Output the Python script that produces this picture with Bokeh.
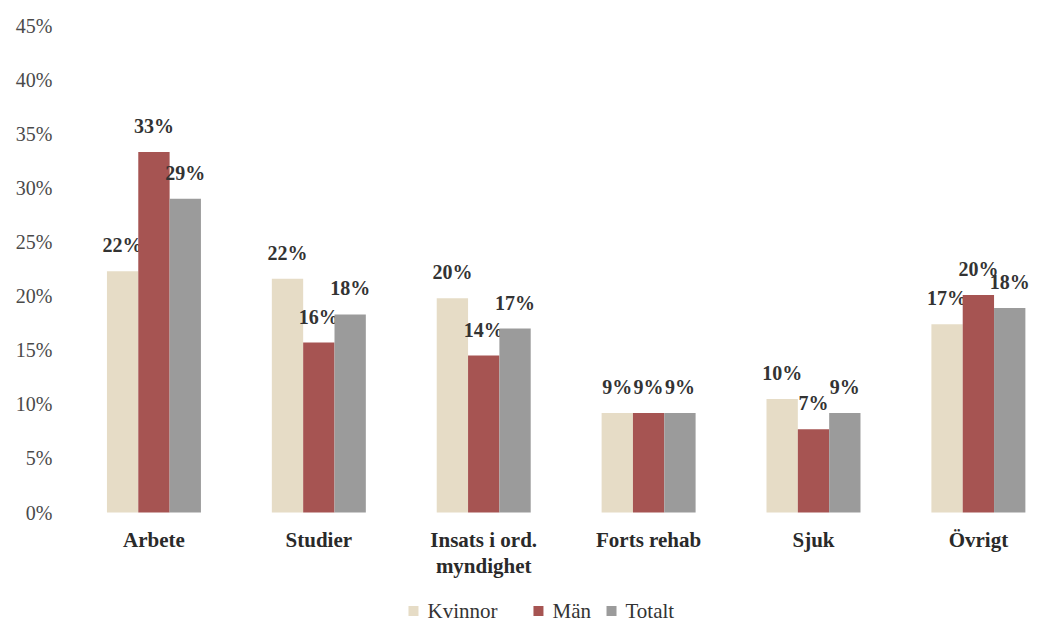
from bokeh.plotting import figure
from bokeh.models import ColumnDataSource, Range1d, FixedTicker, PrintfTickFormatter
from bokeh.embed import file_html
from bokeh.resources import INLINE
from bokeh.core.properties import value

categories = ["Arbete", "Studier", "Insats i ord.\nmyndighet", "Forts rehab", "Sjuk", "Övrigt"]
kvinnor = [22.3, 21.6, 19.8, 9.2, 10.5, 17.4]
man = [33.3, 15.7, 14.5, 9.2, 7.7, 20.1]
totalt = [29.0, 18.3, 17.0, 9.2, 9.2, 18.9]
kvinnor_labels = ["22%", "22%", "20%", "9%", "10%", "17%"]
man_labels = ["33%", "16%", "14%", "9%", "7%", "20%"]
totalt_labels = ["29%", "18%", "17%", "9%", "9%", "18%"]
series_names = ["Kvinnor", "Män", "Totalt"]
y_ticks = [0, 5, 10, 15, 20, 25, 30, 35, 40, 45]

colors = ["#e6dcc6", "#a65452", "#9b9b9b"]
FONT = "Liberation Serif"

xs = list(range(len(categories)))
# frame extends below the zero line to hold category labels and legend
p = figure(frame_width=958, frame_height=600, output_backend="svg", toolbar_location=None,
           x_range=Range1d(-0.5, 5.31), y_range=Range1d(-10.44, 45),
           min_border_left=71, min_border_right=0, min_border_top=25, min_border_bottom=0)
p.outline_line_color = None
p.xgrid.visible = False
p.ygrid.visible = False
p.xaxis.visible = False

bw = 0.19
offsets = [-bw, 0, bw]
for vals, labs, col, off in zip([kvinnor, man, totalt], [kvinnor_labels, man_labels, totalt_labels],
                                colors, offsets):
    src = ColumnDataSource(dict(x=[x + off for x in xs], top=vals, lab=labs))
    p.vbar(x="x", top="top", bottom=0, width=bw, source=src, fill_color=col, line_color=None)
    p.text(x="x", y="top", text="lab", source=src, text_align="center", text_baseline="alphabetic",
           y_offset=-26, text_font=value(FONT), text_font_style="bold", text_font_size="20px",
           text_color="#333333")

# category labels under the zero line
cat_src = ColumnDataSource(dict(x=xs, y=[0] * len(xs), text=categories))
p.text(x="x", y="y", text="text", source=cat_src, text_align="center", text_baseline="top",
       y_offset=15, text_font=value(FONT), text_font_style="bold", text_font_size="21px",
       text_color="#2a2a2a", text_line_height=1.1)

p.yaxis.ticker = FixedTicker(ticks=y_ticks)
p.yaxis.formatter = PrintfTickFormatter(format="%d%%")
p.yaxis.axis_line_color = None
p.yaxis.major_tick_line_color = None
p.yaxis.minor_tick_line_color = None
p.yaxis.major_label_text_font = FONT
p.yaxis.major_label_text_font_size = "20px"
p.yaxis.major_label_text_color = "#4a4a4a"
p.yaxis.major_label_standoff = 13

# legend row below the category labels (swatch + serif label)
leg_x = [1.574, 2.332, 2.775]
leg_y = -9.1
leg_src = ColumnDataSource(dict(x=leg_x, y=[leg_y] * 3, name=series_names, color=colors))
p.scatter(x="x", y="y", source=leg_src, marker="square", size=10, fill_color="color", line_color=None)
p.text(x="x", y="y", text="name", source=leg_src, x_offset=14, text_align="left", text_baseline="middle",
       text_font=value(FONT), text_font_size="21px", text_color="#333333")

open("out.html", "w").write(file_html(p, INLINE))
